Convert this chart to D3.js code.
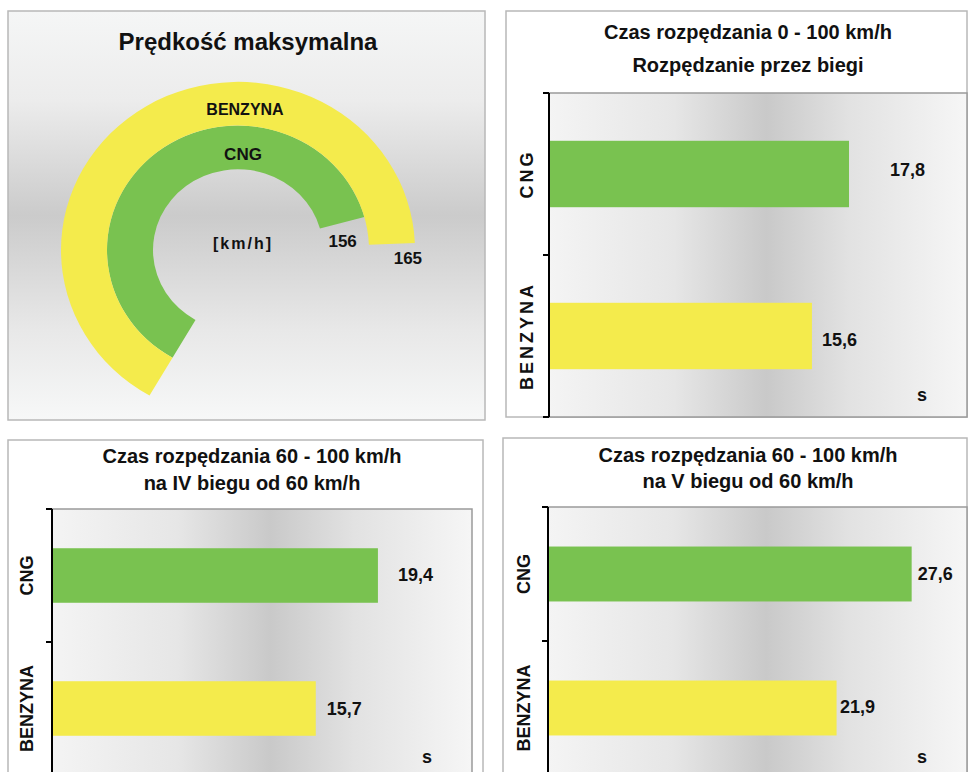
<!DOCTYPE html>
<html>
<head>
<meta charset="utf-8">
<script src="https://cdn.jsdelivr.net/npm/d3@7"></script>
<style>
body { margin: 0; background: #fff; }
text { font-family: "Liberation Sans", Arial, sans-serif; font-weight: bold; fill: #111; }
</style>
</head>
<body>
<svg id="chart" width="968" height="772"></svg>
<script>
const fuels = ["CNG", "BENZYNA"]
const fuelColors = ["#79c250", "#f4eb4c"]
const maxSpeed = [156, 165]
const accel0to100 = [17.8, 15.6]
const accelGear4 = [19.4, 15.7]
const accelGear5 = [27.6, 21.9]
const gaugeTitle = "Prędkość maksymalna"
const speedUnit = "[km/h]"
const timeUnit = "s"
const titles0to100 = ["Czas rozpędzania 0 - 100 km/h", "Rozpędzanie przez biegi"]
const titlesGear4 = ["Czas rozpędzania 60 - 100 km/h", "na IV biegu od 60 km/h"]
const titlesGear5 = ["Czas rozpędzania 60 - 100 km/h", "na V biegu od 60 km/h"]

const svg = d3.select("#chart")
const defs = svg.append("defs")

function addGradient(id, vertical, stops) {
    const grad = defs.append("linearGradient")
        .attr("id", id)
        .attr("x1", 0).attr("y1", 0)
        .attr("x2", vertical ? 0 : 1)
        .attr("y2", vertical ? 1 : 0)
    grad.selectAll("stop")
        .data(stops)
        .join("stop")
        .attr("offset", d => d[0])
        .attr("stop-color", d => d[1])
}

addGradient("gaugeBg", true, [[0, "#f5f6f6"], [0.22, "#ececec"], [0.5, "#cbcbcb"], [0.78, "#e8e8e8"], [1, "#f7f8f8"]])
addGradient("plotBg", false, [[0, "#f4f4f4"], [0.3, "#e6e6e6"], [0.52, "#c9c9c9"], [0.72, "#e2e2e2"], [1, "#f6f6f6"]])

function drawGauge() {
    svg.append("rect")
        .attr("x", 8).attr("y", 11)
        .attr("width", 477).attr("height", 409)
        .attr("fill", "url(#gaugeBg)")
        .attr("stroke", "#b8b8b8")
        .attr("stroke-width", 1.5)

    svg.append("text")
        .text(gaugeTitle)
        .attr("x", 248).attr("y", 50)
        .attr("text-anchor", "middle")
        .attr("font-size", "24px")

    const cx = 238, cy = 250
    const squash = 0.95   // the doughnut is a little flatter than round
    const toRad = Math.PI / 180
    // doughnut: the hidden part of the ring is what is left of 250
    const angle = d3.scaleLinear().domain([0, 250]).range([-150 * toRad, 210 * toRad])
    const radius = d3.scaleBand().domain(fuels).range([85, 177])
    const midR = d => radius(d) + radius.bandwidth() / 2
    const arc = d3.arc()

    svg.append("g")
        .attr("transform", `translate(${cx},${cy}) scale(1,${squash})`)
        .selectAll("path")
        .data(fuels)
        .join("path")
        .attr("d", (d, i) => arc({
            innerRadius: radius(d),
            outerRadius: radius(d) + radius.bandwidth(),
            startAngle: angle(0),
            endAngle: angle(maxSpeed[i])
        }))
        .attr("fill", (d, i) => fuelColors[i])

    const g = svg.append("g").attr("transform", `translate(${cx},${cy})`)

    const ringOffsets = [[5, 12.5], [7, 11]]
    g.selectAll("text.ring")
        .data(fuels)
        .join("text")
        .attr("class", "ring")
        .text(d => d)
        .attr("x", (d, i) => ringOffsets[i][0])
        .attr("y", (d, i) => -midR(d) * squash + ringOffsets[i][1])
        .attr("text-anchor", "middle")
        .attr("font-size", d => d === "CNG" ? "17px" : "16px")

    const valueOffsets = [[0.5, 24], [16, 20]]
    g.selectAll("text.value")
        .data(fuels)
        .join("text")
        .attr("class", "value")
        .text((d, i) => maxSpeed[i])
        .attr("x", (d, i) => midR(d) * Math.sin(angle(maxSpeed[i])) + valueOffsets[i][0])
        .attr("y", (d, i) => -midR(d) * squash * Math.cos(angle(maxSpeed[i])) + valueOffsets[i][1])
        .attr("text-anchor", "middle")
        .attr("font-size", "17px")

    g.append("text")
        .text(speedUnit)
        .attr("x", 5).attr("y", -1)
        .attr("text-anchor", "middle")
        .attr("font-size", "16px")
        .attr("letter-spacing", "2px")
}

function drawBarPanel(opts) {
    const box = opts.box
    const plot = opts.plot

    svg.append("rect")
        .attr("x", box.x).attr("y", box.y)
        .attr("width", box.w).attr("height", box.h)
        .attr("fill", "#fff")
        .attr("stroke", "#b8b8b8")
        .attr("stroke-width", 1.5)

    svg.selectAll(null)
        .data(opts.titles)
        .enter()
        .append("text")
        .text(d => d)
        .attr("x", opts.titleX)
        .attr("y", (d, i) => opts.titleY[i])
        .attr("text-anchor", "middle")
        .attr("font-size", "20px")

    const x = d3.scaleLinear().domain([0, opts.domainMax]).range([plot.left, plot.right])
    const y = d3.scaleBand().domain(fuels).range([plot.top, plot.bottom])
    const barH = y.bandwidth() * 0.41

    svg.append("rect")
        .attr("x", plot.left).attr("y", plot.top)
        .attr("width", plot.right - plot.left)
        .attr("height", plot.bottom - plot.top)
        .attr("fill", "url(#plotBg)")

    svg.selectAll(null)
        .data(fuels)
        .enter()
        .append("rect")
        .attr("x", x(0))
        .attr("y", d => y(d) + (y.bandwidth() - barH) / 2)
        .attr("width", (d, i) => x(opts.values[i]) - x(0))
        .attr("height", barH)
        .attr("fill", (d, i) => fuelColors[i])

    // frame of the plot area
    svg.append("path")
        .attr("d", `M${plot.left},${plot.top}H${plot.right}V${plot.bottom}H${plot.left}`)
        .attr("fill", "none")
        .attr("stroke", "#9a9a9a")
        .attr("stroke-width", 1.5)

    svg.append("line")
        .attr("x1", plot.left).attr("x2", plot.left)
        .attr("y1", plot.top).attr("y2", plot.bottom)
        .attr("stroke", "#000")
        .attr("stroke-width", 2)

    const tickYs = fuels.map(d => y(d)).concat([plot.bottom])
    svg.selectAll(null)
        .data(tickYs)
        .enter()
        .append("line")
        .attr("x1", plot.left - 6).attr("x2", plot.left)
        .attr("y1", d => d).attr("y2", d => d)
        .attr("stroke", "#000")
        .attr("stroke-width", 2)

    svg.selectAll(null)
        .data(fuels)
        .enter()
        .append("text")
        .text(d => d)
        .attr("transform", d => `translate(${opts.catX},${y(d) + y.bandwidth() / 2}) rotate(-90)`)
        .attr("text-anchor", "middle")
        .attr("dy", "0.35em")
        .attr("font-size", "18px")
        .attr("letter-spacing", opts.catSpacing)

    svg.selectAll(null)
        .data(fuels)
        .enter()
        .append("text")
        .text((d, i) => String(opts.values[i]).replace(".", ","))
        .attr("x", (d, i) => x(opts.values[i]) + opts.labelGaps[i])
        .attr("y", (d, i) => y(d) + y.bandwidth() / 2 + opts.labelDy[i])
        .attr("font-size", "18px")

    svg.append("text")
        .text(timeUnit)
        .attr("x", plot.right - 45)
        .attr("y", opts.unitY)
        .attr("text-anchor", "middle")
        .attr("font-size", "18px")
}

drawGauge()

drawBarPanel({
    box: {x: 506, y: 11, w: 461, h: 406},
    plot: {left: 549, top: 93, right: 967, bottom: 417},
    values: accel0to100,
    domainMax: 24.8,
    titles: titles0to100,
    titleX: 748,
    titleY: [39, 72],
    catX: 527,
    catSpacing: "3px",
    labelGaps: [41, 10],
    labelDy: [2, 10],
    unitY: 401
})

drawBarPanel({
    box: {x: 8, y: 440, w: 475, h: 345},
    plot: {left: 52, top: 509, right: 472, bottom: 775},
    values: accelGear4,
    domainMax: 25,
    titles: titlesGear4,
    titleX: 252,
    titleY: [463, 490],
    catX: 27,
    catSpacing: "0px",
    labelGaps: [20, 11],
    labelDy: [5, 6],
    unitY: 763
})

drawBarPanel({
    box: {x: 503, y: 438, w: 464, h: 345},
    plot: {left: 548, top: 507, right: 967, bottom: 775},
    values: accelGear5,
    domainMax: 31.8,
    titles: titlesGear5,
    titleX: 748,
    titleY: [462, 488],
    catX: 524,
    catSpacing: "0px",
    labelGaps: [6, 3.5],
    labelDy: [6, 5],
    unitY: 763
})
</script>
</body>
</html>
